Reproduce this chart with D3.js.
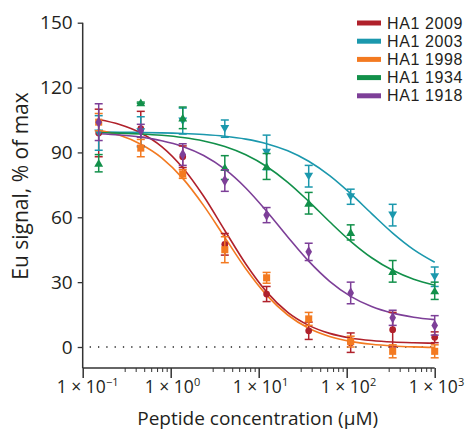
<!DOCTYPE html>
<html>
<head>
<meta charset="utf-8">
<script src="https://cdn.jsdelivr.net/npm/d3@7"></script>
<style>
  html, body { margin: 0; padding: 0; background: #fff; }
  svg { display: block; font-family: "Open Sans", "Noto Sans", sans-serif; }
</style>
</head>
<body>
<svg id="chart" width="465" height="432"></svg>
<script>
// ---- data ----
const seriesNames = ["HA1 2009", "HA1 2003", "HA1 1998", "HA1 1934", "HA1 1918"];
const seriesColors = ["#b0212b", "#1b98ad", "#f37a21", "#12904a", "#7d3f98"];
const seriesSymbols = ["circle", "triangleDown", "square", "triangleUp", "diamond"];

// measured concentrations (µM), 3-fold dilutions
const conc = [0.152, 0.457, 1.37, 4.12, 12.3, 37, 111, 333, 1000];

const mean2009 = [99, 101, 88, 47.5, 24.5, 7.5, 2, 8, 4.5];
const err2009  = [11, 8, 5, 5, 3.5, 4, 4.5, 8, 2.5];
const mean2003 = [99, 99.5, 104.5, 101, 90, 79, 69.5, 61, 32.5];
const err2003  = [8, 7, 6, 4, 8, 5, 3.5, 5, 4.5];
const mean1998 = [104, 92, 80, 45, 32, 13, 2.5, -2, -2];
const err1998  = [4, 4, 2, 6, 2.5, 3, 2.5, 3, 3];
const mean1934 = [85, 113, 106, 83, 83.5, 66.5, 53, 35, 26];
const err1934  = [4, 0.3, 5, 5.5, 6, 5, 3.5, 5, 4];
const mean1918 = [104, 100, 89, 77, 61, 44, 25, 13.5, 10];
const err1918  = [8.5, 3, 5, 5, 3.5, 4, 5, 3.5, 4.5];

// fitted curves, values
const fitConc = [0.152, 0.263, 0.457, 0.79, 1.37, 2.37, 4.12, 7.13, 12.3, 21.4, 37, 64, 111, 192, 333, 577, 1000];
const fit2009 = [105.2, 102.9, 99.0, 92.7, 82.9, 69.7, 53.9, 38.4, 25.5, 16.0, 10.0, 6.3, 4.2, 3.0, 2.3, 1.95, 1.75];
const fit2003 = [99.4, 99.35, 99.2, 99.06, 98.77, 98.28, 97.47, 96.15, 94.05, 90.74, 85.9, 79.24, 70.9, 61.7, 52.7, 45.06, 39.2];
const fit1998 = [100.2, 97.9, 93.8, 87.5, 78.0, 65.4, 50.7, 36.2, 24.0, 14.8, 8.7, 4.9, 2.6, 1.26, 0.49, 0.06, -0.18];
const fit1934 = [99.15, 98.91, 98.53, 97.91, 96.9, 95.29, 92.74, 88.92, 83.5, 76.19, 67.38, 57.92, 48.89, 41.29, 35.47, 31.35, 28.6];
const fit1918 = [98.66, 98.08, 97.08, 95.44, 92.76, 88.56, 82.23, 73.55, 62.82, 50.92, 39.7, 30.4, 23.44, 18.73, 15.68, 13.79, 12.65];

const yTicks = [0, 30, 60, 90, 120, 150];
const xMajorTicks = [0.1, 1, 10, 100, 1000];
const xTickExponents = ["\u22121", "0", "1", "2", "3"];
const xMinorMultipliers = [3, 4, 5, 6, 7, 8, 9];

const yTitle = "Eu signal, % of max";
const xTitle = "Peptide concentration (\u03BCM)";

// ---- build series ----
const means = [mean2009, mean2003, mean1998, mean1934, mean1918];
const errs = [err2009, err2003, err1998, err1934, err1918];
const fits = [fit2009, fit2003, fit1998, fit1934, fit1918];
const series = seriesNames.map((name, i) => ({
  name, color: seriesColors[i], symbol: seriesSymbols[i],
  points: conc.map((c, j) => ({ c, v: means[i][j], e: errs[i][j] })),
  fit: fitConc.map((c, j) => ({ c, v: fits[i][j] }))
}));

// ---- layout ----
const svg = d3.select("#chart");
const x = d3.scaleLog().domain([0.1, 1000]).range([82.7, 434.7]);
const y = d3.scaleLinear().domain([0, 150]).range([347, 22.7]);
const axisY = 368;   // x-axis baseline position
const INK = "#231f20";

// dotted zero line
svg.append("line")
  .attr("x1", x(0.12)).attr("x2", x(1000))
  .attr("y1", y(0)).attr("y2", y(0))
  .attr("stroke", "#222").attr("stroke-width", 1.3)
  .attr("stroke-dasharray", "1.3,7");

// y axis
const gy = svg.append("g").attr("transform", `translate(${x(0.1)},0)`)
  .call(d3.axisLeft(y).tickValues(yTicks).tickSize(5).tickPadding(5).tickFormat(d3.format("d")));
gy.select(".domain").remove();
gy.selectAll(".tick line").attr("stroke", "#333").attr("stroke-width", 1.3);
gy.selectAll(".tick text").attr("font-size", 19).attr("fill", INK)
  .attr("font-family", "'Open Sans', sans-serif");
svg.append("line").attr("x1", x(0.1)).attr("x2", x(0.1))
  .attr("y1", y(150)).attr("y2", axisY)
  .attr("stroke", "#333").attr("stroke-width", 1.5);

// x axis
const minorVals = [];
xMajorTicks.slice(0, -1).forEach(m => xMinorMultipliers.forEach(k => minorVals.push(m * k)));
const gxMinor = svg.append("g").attr("transform", `translate(0,${axisY})`)
  .call(d3.axisBottom(x).tickValues(minorVals).tickSize(4).tickFormat(""));
gxMinor.select(".domain").remove();
gxMinor.selectAll(".tick line").attr("stroke", "#333").attr("stroke-width", 1);

const gx = svg.append("g").attr("transform", `translate(0,${axisY})`)
  .call(d3.axisBottom(x).tickValues(xMajorTicks).tickSize(10).tickFormat(""));
gx.select(".domain").remove();
gx.selectAll(".tick line").attr("stroke", "#333").attr("stroke-width", 1.5);
svg.append("line").attr("x1", x(0.1)).attr("x2", x(1000))
  .attr("y1", axisY).attr("y2", axisY)
  .attr("stroke", "#333").attr("stroke-width", 1.5);

// x tick labels: "1 × 10" centred on tick, exponent appended
xMajorTicks.forEach((t, i) => {
  const cx = x(t) - 1.4;
  const base = svg.append("text")
    .attr("x", cx).attr("y", 393)
    .attr("text-anchor", "middle")
    .attr("font-size", 17.5).attr("fill", INK)
    .text("1 \u00D7 10");
  const w = base.node().getComputedTextLength();
  svg.append("text")
    .attr("x", cx + w / 2 + 0.2).attr("y", 386)
    .attr("font-size", 11).attr("fill", INK)
    .text(xTickExponents[i]);
});

// axis titles
svg.append("text")
  .attr("x", (x(0.1) + x(1000)) / 2 - 1).attr("y", 425)
  .attr("text-anchor", "middle").attr("font-size", 19).attr("fill", INK)
  .text(xTitle);
svg.append("text")
  .attr("transform", `translate(27.5,${186}) rotate(-90)`)
  .attr("text-anchor", "middle").attr("font-size", 21).attr("fill", INK)
  .text(yTitle);

// fitted curves
const line = d3.line().x(d => x(d.c)).y(d => y(d.v)).curve(d3.curveMonotoneX);
svg.append("g").selectAll("path").data(series).join("path")
  .attr("d", s => line(s.fit))
  .attr("fill", "none").attr("stroke", s => s.color).attr("stroke-width", 1.6);

// error bars and markers
const symbolTypes = {
  circle: d3.symbolCircle, square: d3.symbolSquare,
  triangleUp: d3.symbolTriangle, triangleDown: d3.symbolTriangle, diamond: d3.symbolDiamond
};
const symbolSizes = { circle: 36, square: 50, triangleUp: 34, triangleDown: 34, diamond: 38 };
const cap = 4;
series.forEach(s => {
  const g = svg.append("g").attr("stroke", s.color).attr("fill", s.color);
  s.points.forEach(p => {
    const cx = x(p.c);
    g.append("line").attr("x1", cx).attr("x2", cx)
      .attr("y1", y(p.v - p.e)).attr("y2", y(p.v + p.e)).attr("stroke-width", 1.5);
    [p.v - p.e, p.v + p.e].forEach(v => g.append("line")
      .attr("x1", cx - cap).attr("x2", cx + cap)
      .attr("y1", y(v)).attr("y2", y(v)).attr("stroke-width", 1.5));
    const rot = s.symbol === "triangleDown" ? 180 : 0;
    const dy = s.symbol === "triangleUp" ? 1 : (s.symbol === "triangleDown" ? -1 : 0);
    g.append("path")
      .attr("d", d3.symbol().type(symbolTypes[s.symbol]).size(symbolSizes[s.symbol])())
      .attr("transform", `translate(${cx},${y(p.v) + dy}) rotate(${rot})`)
      .attr("stroke", "none");
  });
});

// legend
const lg = svg.append("g");
series.forEach((s, i) => {
  const ly = 23 + i * 18.2;
  lg.append("line").attr("x1", 357).attr("x2", 381).attr("y1", ly).attr("y2", ly)
    .attr("stroke", s.color).attr("stroke-width", 5);
  lg.append("text").attr("x", 387).attr("y", ly).attr("dy", "0.35em")
    .attr("font-family", "'Liberation Sans', Arial, sans-serif")
    .attr("font-size", 16).attr("letter-spacing", 0.6)
    .attr("fill", INK).text(s.name);
});
</script>
</body>
</html>
